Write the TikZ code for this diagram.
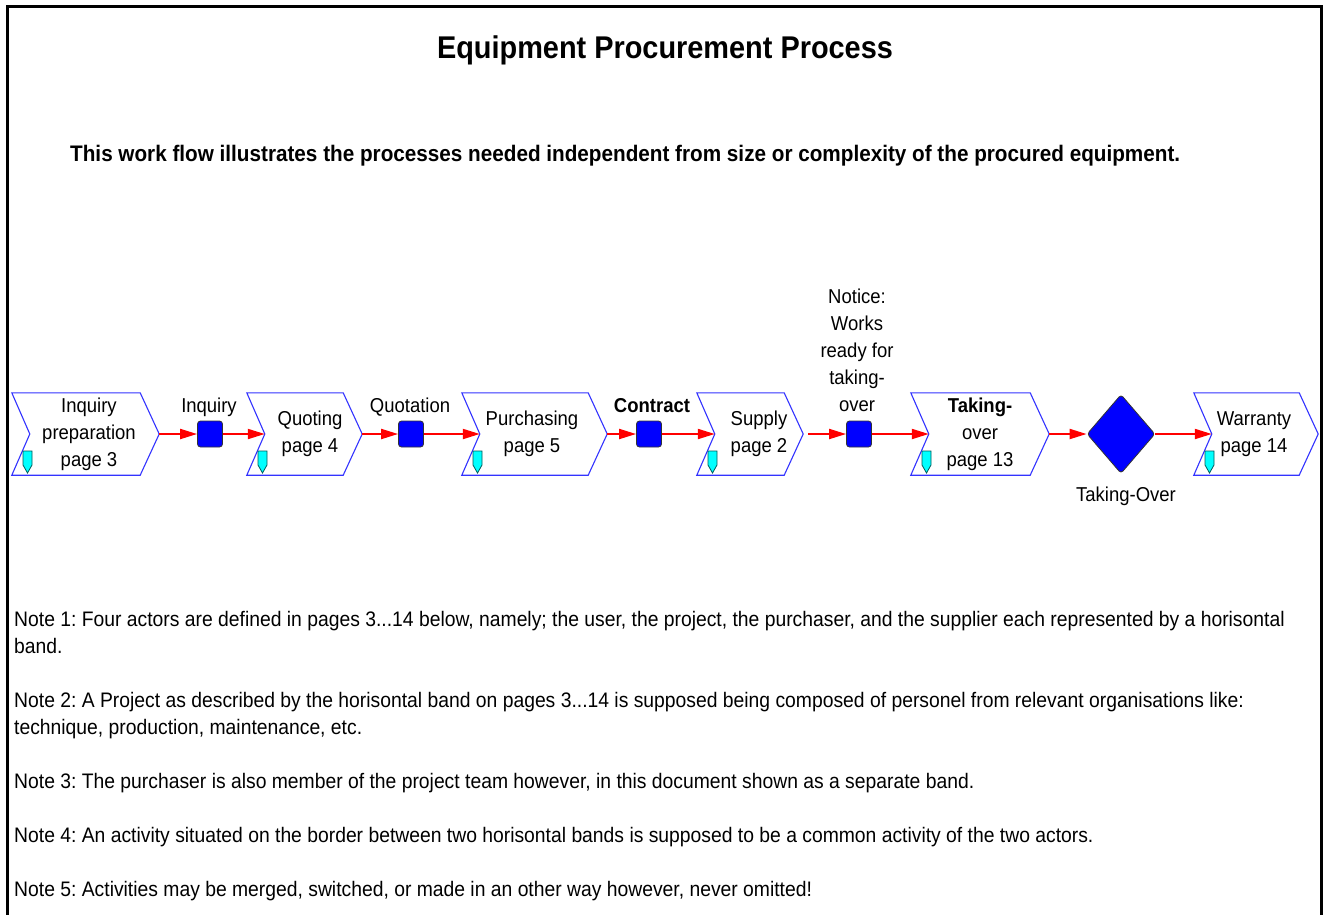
\documentclass[tikz,border=0pt]{standalone}
\usepackage{fontspec}
\setmainfont{Liberation Sans}[FakeStretch=0.92]
\usetikzlibrary{arrows.meta,shapes.geometric,calc}
\frenchspacing

\definecolor{chevblue}{HTML}{3333FF}
\definecolor{evblue}{HTML}{0000FF}
\definecolor{flowred}{HTML}{FF0000}
\definecolor{linkcyan}{HTML}{00FFFF}
\definecolor{linkedge}{HTML}{005A5A}

\tikzset{
  chevbox/.style={rectangle, draw=none, minimum height=82pt, inner sep=0pt},
  chevline/.style={draw=chevblue, line width=1.1pt, fill=white},
  txt/.style={font=\fontsize{20.1}{27}\selectfont, align=center, inner sep=0pt},
  evlabel/.style={txt, anchor=base},
  event/.style={rectangle, rounded corners=3pt, fill=evblue, draw=black!80,
    line width=0.8pt, minimum width=25pt, minimum height=26pt, inner sep=0pt},
  gate/.style={diamond, rounded corners=3pt, fill=evblue, draw=black!80,
    line width=0.8pt, minimum width=68pt, minimum height=79pt, inner sep=0pt},
  flow/.style={draw=flowred, line width=2pt, -{Triangle[length=17pt,width=10pt]}},
  linkicon/.style={fill=linkcyan, draw=linkedge, line width=0.8pt},
  note/.style={anchor=base west, font=\fontsize{21}{27}\selectfont, inner sep=0pt},
}

% chevron: name, left x, right x, text x, text y, text
\newcommand\chevron[6]{%
  \node[chevbox, minimum width={#3-#2}] (#1) at ({(#2+#3)/2},434) {};
  \draw[chevline] (#1.north west) -- ($(#1.north east)+(-19,0)$) -- (#1.east)
    -- ($(#1.south east)+(-19,0)$) -- (#1.south west) -- ($(#1.west)+(18,0)$) -- cycle;
  \coordinate (#1-in) at ($(#1.west)+(18,0)$);
  \node[txt] (#1-t) at (#4,#5) {#6};
  \draw[linkicon] (#2+11,451) -- (#2+20,451) -- (#2+20,465) -- (#2+15.5,473)
    -- (#2+11,465) -- cycle;
}

\begin{document}
\begin{tikzpicture}[x=1pt,y=-1pt]
\useasboundingbox (0,0) rectangle (1328,914);
\fill[white] (0,0) rectangle (1328,914);

% page frame
\draw[line width=3pt] (7,920) -- (7,6) -- (1321,6) -- (1321,920);

% headings
\node[anchor=base, inner sep=0pt, font=\fontsize{31.4}{36}\selectfont\bfseries] (title)
  at (665,58) {Equipment Procurement Process};
\node[anchor=base west, inner sep=0pt, font=\fontsize{22.5}{27}\selectfont\bfseries] (subtitle)
  at (70,161) {This work flow illustrates the processes needed independent from size or complexity of the procured equipment.};

% process steps
\chevron{c1}{12}{159}{89}{434}{Inquiry\\preparation\\page 3}
\chevron{c2}{247}{362}{310}{434}{Quoting\\page 4}
\chevron{c3}{462}{607}{532}{434}{Purchasing\\page 5}
\chevron{c4}{697}{803}{759}{434}{Supply\\page 2}
\chevron{c5}{911}{1049}{980}{434}{\textbf{Taking-}\\over\\page 13}
\chevron{c6}{1194}{1318}{1254}{434}{Warranty\\page 14}

% events
\node[event] (e1) at (210,434) {};
\node[event] (e2) at (411,434) {};
\node[event] (e3) at (649,434) {};
\node[event] (e4) at (859,434) {};
\node[gate]  (g1) at (1121,434) {};

\node[evlabel] (e1-l) at (209,412) {Inquiry};
\node[evlabel] (e2-l) at (410,412) {Quotation};
\node[evlabel] (e3-l) at (652,412) {\textbf{Contract}};
\node[txt] (e4-l) at (857,350) {Notice:\\Works\\ready for\\taking-\\over};
\node[evlabel] (g1-l) at (1126,501) {Taking-Over};

% flow
\draw[flow] (c1.east) -- (e1);
\draw[flow] (e1) -- (c2-in);
\draw[flow] (c2.east) -- (e2);
\draw[flow] (e2) -- (c3-in);
\draw[flow] (c3.east) -- (e3);
\draw[flow] (e3) -- (c4-in);
\draw[flow, shorten <=5pt] (c4.east) -- (e4);
\draw[flow] (e4) -- (c5-in);
\draw[flow] (c5.east) -- (g1);
\draw[flow] (g1) -- (c6-in);

% notes
\node[note] (n1a) at (14,626) {Note 1: Four actors are defined in pages 3...14 below, namely; the user, the project, the purchaser, and the supplier each represented by a horisontal};
\node[note] (n1b) at (14,653) {band.};
\node[note] (n2a) at (14,707) {Note 2: A Project as described by the horisontal band on pages 3...14 is supposed being composed of personel from relevant organisations like:};
\node[note] (n2b) at (14,734) {technique, production, maintenance, etc.};
\node[note] (n3) at (14,788) {Note 3: The purchaser is also member of the project team however, in this document shown as a separate band.};
\node[note] (n4) at (14,842) {Note 4: An activity situated on the border between two horisontal bands is supposed to be a common activity of the two actors.};
\node[note] (n5) at (14,896) {Note 5: Activities may be merged, switched, or made in an other way however, never omitted!};
\end{tikzpicture}
\end{document}
